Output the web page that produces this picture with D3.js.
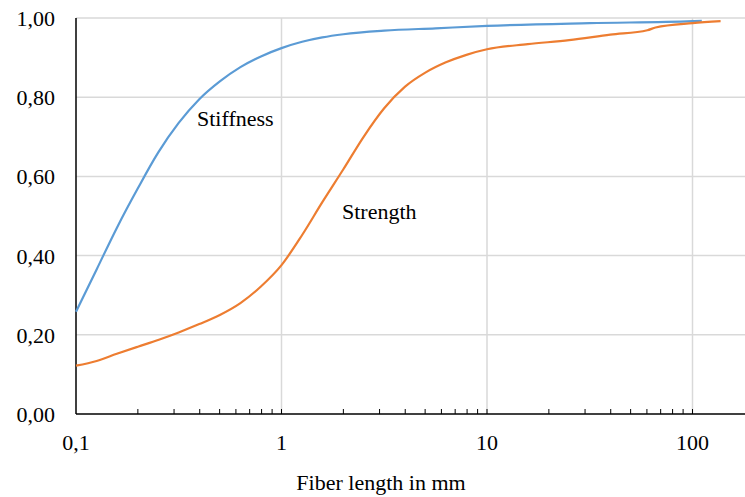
<!DOCTYPE html>
<html>
<head>
<meta charset="utf-8">
<script src="https://cdn.jsdelivr.net/npm/d3@7"></script>
<style>
  body { margin: 0; background: #fff; }
  text { font-family: "Times New Roman", "Liberation Serif", "DejaVu Serif", serif; }
</style>
</head>
<body>
<svg id="chart" width="745" height="497"></svg>
<script>
// fiber length (mm) and normalised property
const stiffnessLen = [0.1, 0.126, 0.158, 0.2, 0.251, 0.316, 0.398, 0.501, 0.631, 0.794, 1, 1.26, 1.58, 2, 3.16, 5.62, 10, 31.6, 100, 111];
const stiffnessVal = [0.258, 0.365, 0.47, 0.57, 0.66, 0.735, 0.795, 0.84, 0.876, 0.903, 0.924, 0.94, 0.951, 0.959, 0.968, 0.974, 0.98, 0.987, 0.992, 0.993];

const strengthLen = [0.1, 0.126, 0.158, 0.2, 0.251, 0.316, 0.398, 0.501, 0.631, 0.794, 1, 1.26, 1.58, 2, 2.51, 3.16, 3.98, 5.01, 6.31, 7.94, 10, 15.8, 25.1, 39.8, 60.3, 66.1, 100, 137];
const strengthVal = [0.122, 0.134, 0.152, 0.17, 0.187, 0.206, 0.227, 0.25, 0.28, 0.322, 0.376, 0.452, 0.535, 0.618, 0.7, 0.772, 0.826, 0.862, 0.888, 0.907, 0.921, 0.934, 0.944, 0.958, 0.969, 0.976, 0.987, 0.992];

const yTicks = [0, 0.2, 0.4, 0.6, 0.8, 1.0];
const xMajor = [0.1, 1, 10, 100];
const xLabels = ["0,1", "1", "10", "100"];

const series = [
  { name: "Stiffness", len: stiffnessLen, val: stiffnessVal, color: "#5B9BD5", label: [197, 126] },
  { name: "Strength", len: strengthLen, val: strengthVal, color: "#ED7D31", label: [342, 219] }
];

const margin = { left: 76, right: 0, top: 18, bottom: 83 };
const width = 745, height = 497;
const svg = d3.select("#chart");

const x = d3.scaleLog()
  .domain([0.1, Math.pow(10, (745 - 76) / 205.5 - 1)])
  .range([margin.left, width - margin.right]);
const y = d3.scaleLinear()
  .domain([0, 1])
  .range([height - margin.bottom, margin.top]);

// Gridlines
svg.append("g")
  .selectAll("line")
  .data(yTicks.filter((d) => d > 0))
  .join("line")
  .attr("x1", margin.left)
  .attr("x2", width - margin.right)
  .attr("y1", (d) => y(d))
  .attr("y2", (d) => y(d))
  .attr("stroke", "#d9d9d9")
  .attr("stroke-width", 1.5);

svg.append("g")
  .selectAll("line")
  .data(xMajor.slice(1))
  .join("line")
  .attr("x1", (d) => x(d))
  .attr("x2", (d) => x(d))
  .attr("y1", y(1))
  .attr("y2", y(0))
  .attr("stroke", "#d9d9d9")
  .attr("stroke-width", 1.5);

// Minor + major ticks on x axis (pointing up into the plot)
const tickVals = [];
for (let dec = 0.1; dec <= 100; dec *= 10) {
  for (let m = 1; m <= 9; m++) {
    const v = +(dec * m).toPrecision(3);
    if (v > 0.1 && v <= 100) tickVals.push(v);
  }
}
svg.append("g")
  .selectAll("line")
  .data(tickVals)
  .join("line")
  .attr("x1", (d) => x(d))
  .attr("x2", (d) => x(d))
  .attr("y1", y(0))
  .attr("y2", y(0) - 5)
  .attr("stroke", "#000")
  .attr("stroke-width", 1);

// Axes lines
svg.append("line")
  .attr("x1", margin.left).attr("x2", width)
  .attr("y1", y(0)).attr("y2", y(0))
  .attr("stroke", "#000").attr("stroke-width", 1.5);
svg.append("line")
  .attr("x1", margin.left).attr("x2", margin.left)
  .attr("y1", y(1)).attr("y2", y(0))
  .attr("stroke", "#000").attr("stroke-width", 1.5);

// Tick labels
svg.append("g")
  .selectAll("text")
  .data(yTicks)
  .join("text")
  .attr("x", 55)
  .attr("y", (d) => y(d) + 8)
  .attr("text-anchor", "end")
  .attr("font-size", 22)
  .text((d) => d.toFixed(2).replace(".", ","));

svg.append("g")
  .selectAll("text")
  .data(xMajor)
  .join("text")
  .attr("x", (d) => x(d))
  .attr("y", 450)
  .attr("text-anchor", "middle")
  .attr("font-size", 22)
  .text((d, i) => xLabels[i]);

svg.append("text")
  .attr("x", 381)
  .attr("y", 490)
  .attr("text-anchor", "middle")
  .attr("font-size", 22)
  .text("Fiber length in mm");

// Lines
const lineGen = d3.line()
  .x((d) => x(d[0]))
  .y((d) => y(d[1]))
  .curve(d3.curveMonotoneX);

series.forEach((s) => {
  svg.append("path")
    .attr("d", lineGen(s.len.map((l, i) => [l, s.val[i]])))
    .attr("fill", "none")
    .attr("stroke", s.color)
    .attr("stroke-width", 2.2);
  svg.append("text")
    .attr("x", s.label[0])
    .attr("y", s.label[1])
    .attr("font-size", 22)
    .text(s.name);
});
</script>
</body>
</html>
